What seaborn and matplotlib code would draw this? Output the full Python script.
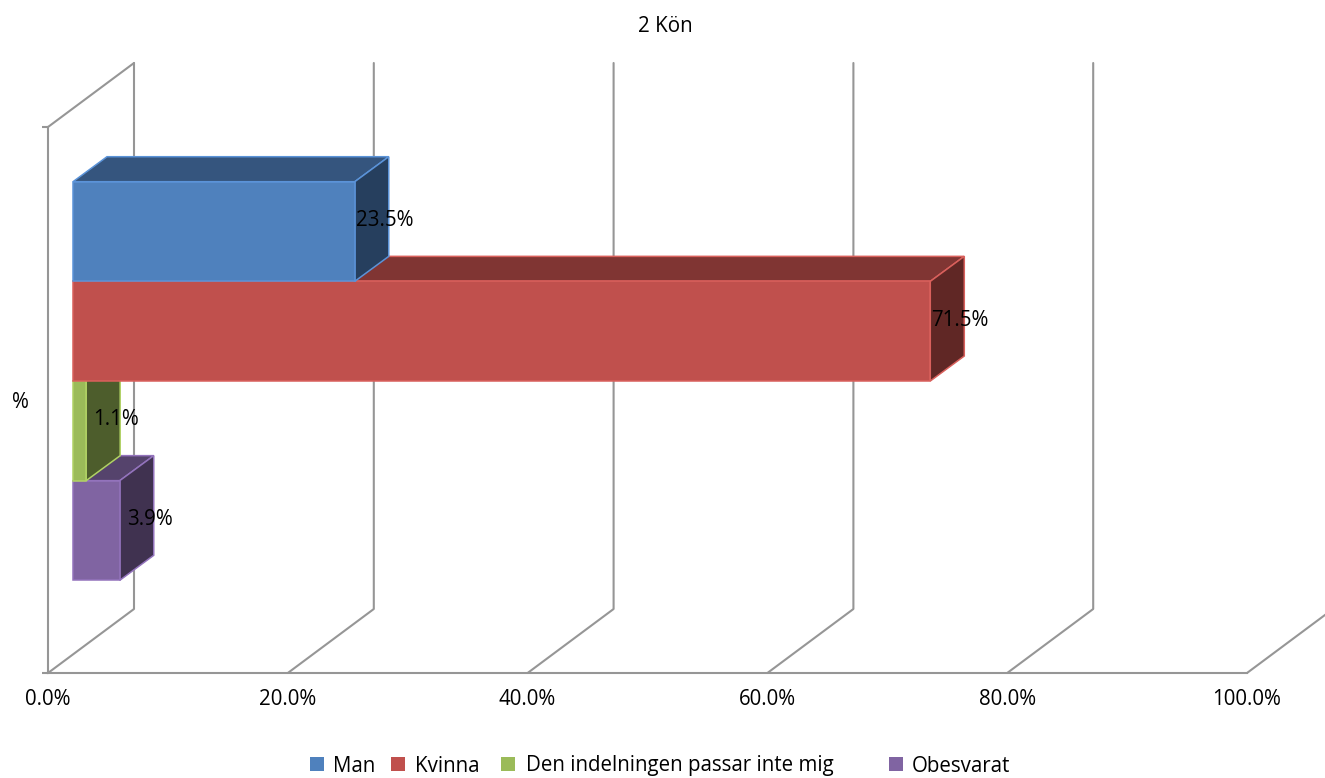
import pandas as pd
import matplotlib.pyplot as plt
import seaborn as sns
from matplotlib.patches import Polygon, Rectangle

svar = ['Man', 'Kvinna', 'Den indelningen passar inte mig', 'Obesvarat']
andel = [23.5, 71.5, 1.1, 3.9]
etikett = ['23.5%', '71.5%', '1.1%', '3.9%']
fraga = ['%', '%', '%', '%']
xticks = [0, 20, 40, 60, 80, 100]
xtick_labels = ['0.0%', '20.0%', '40.0%', '60.0%', '80.0%', '100.0%']

farg = ['#4F81BD', '#C0504D', '#9BBB59', '#8064A2']
topp = ['#35557E', '#803533', '#677C3B', '#55436C']
sida = ['#263F5E', '#602725', '#4D5D2C', '#403250']
kant = ['#5B93D8', '#D9605C', '#B0D264', '#9373BC']

grey = '#969696'
W, H = 1325, 778
fs = 14.8

sns.set_style('white')
plt.rcParams['font.family'] = ['Open Sans', 'DejaVu Sans']
plt.rcParams['text.color'] = 'black'

fig = plt.figure(figsize=(W / 100, H / 100), dpi=100)
ax = fig.add_axes([48 / W, 1 - 673 / H, 1199 / W, 546 / H])

df = pd.DataFrame({'fraga': fraga, 'svar': svar, 'andel': andel})
sns.barplot(data=df, y='fraga', x='andel', hue='svar', hue_order=svar, palette=farg,
            width=0.73, gap=0, saturation=1, orient='h', legend=False, ax=ax)
ax.set_xlim(0, 100)
ax.set_ylim(0.5, -0.5)

# pixels to data units
px = 100 / 1199
py = 1 / 546


def depth(x, y, dx, dy):
    return (x + dx * px, y - dy * py)


# walls and floor
for t in xticks:
    ax.plot(*zip(depth(t, 0.5, 0, 0), depth(t, 0.5, 86, 64), depth(t, -0.5, 86, 64)),
            color=grey, lw=1.5, clip_on=False, zorder=1)
ax.plot(*zip(depth(0, -0.5, 0, 0), depth(0, -0.5, 86, 64)), color=grey, lw=1.5,
        clip_on=False, zorder=1)

# bars sit 25/19 px into the depth, side and top faces are 34/25 px deep
for i, cont in enumerate(ax.containers):
    bar = cont[0]
    bar.set_x(bar.get_x() + 25 * px)
    bar.set_y(bar.get_y() - 19 * py)
    z = 6 - i
    bar.set_zorder(z + 0.5)
    bar.set_edgecolor(kant[i])
    bar.set_linewidth(1.1)
    bar.set_clip_on(False)
    x0, x1 = bar.get_x(), bar.get_x() + bar.get_width()
    y0, y1 = bar.get_y(), bar.get_y() + bar.get_height()
    ax.add_patch(Polygon([(x0, y0), (x1, y0), depth(x1, y0, 34, 25), depth(x0, y0, 34, 25)],
                         facecolor=topp[i], edgecolor=kant[i], lw=1.1, clip_on=False, zorder=z))
    ax.add_patch(Polygon([(x1, y0), (x1, y1), depth(x1, y1, 34, 25), depth(x1, y0, 34, 25)],
                         facecolor=sida[i], edgecolor=kant[i], lw=1.1, clip_on=False, zorder=z))
    tx, ty = depth(x1, (y0 + y1) / 2, 30, 12)
    ax.text(tx, ty + 1 * py, etikett[i], ha='center', va='center', color='black', fontsize=fs, zorder=20)

ax.set_xlabel('')
ax.set_ylabel('')
sns.despine(ax=ax, top=True, right=True)
for side in ['left', 'bottom']:
    ax.spines[side].set_color(grey)
    ax.spines[side].set_linewidth(1.5)
ax.set_xticks(xticks)
ax.set_xticklabels(xtick_labels, fontsize=fs, color='black')
ax.tick_params(axis='x', length=0, pad=11.5)
ax.set_yticks([0])
ax.set_yticklabels(['%'], fontsize=fs, color='black')
ax.tick_params(axis='y', length=0, pad=14)
ax.set_yticks([-0.5, 0.5], minor=True)
ax.tick_params(axis='y', which='minor', length=4.5, width=1.5, color=grey, left=True)

fig.text(665 / W, 1 - 26 / H, '2 Kön', ha='center', va='center', fontsize=fs)

# legend spacing is uneven in the original
swatch_x = [310, 391, 501, 889]
text_x = [333, 415, 526, 912]
for i, namn in enumerate(svar):
    fig.add_artist(Rectangle((swatch_x[i] / W, 1 - 771 / H), 14 / W, 14 / H,
                             transform=fig.transFigure, facecolor=farg[i], edgecolor='none'))
    fig.text(text_x[i] / W, 1 - 766 / H, namn, ha='left', va='center', fontsize=fs)

fig.savefig('out.png', dpi=100)
